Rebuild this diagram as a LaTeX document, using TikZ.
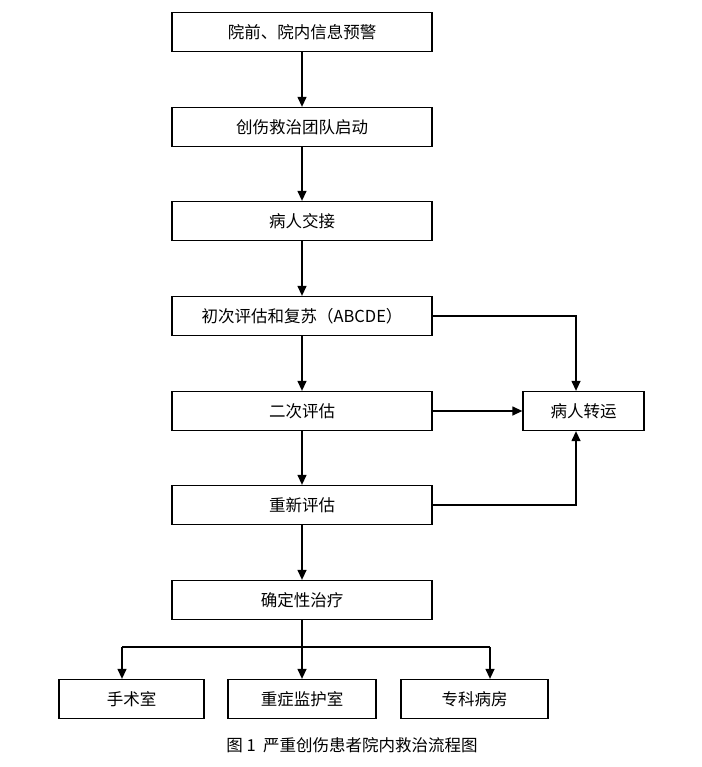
\documentclass[tikz,border=0pt]{standalone}
\usepackage{fontspec}
\setmainfont{Noto Sans CJK SC}
\usetikzlibrary{arrows.meta}
\begin{document}
\begin{tikzpicture}[x=1pt,y=-1pt,
  box/.style={draw,line width=1.3pt,minimum height=39pt,inner sep=0pt,font=\fontsize{16.5}{19}\selectfont},
  mainbox/.style={box,minimum width=260pt},
  arr/.style={line width=1.3pt,-{Triangle[length=10pt,width=9pt]}},
  ln/.style={line width=1.3pt}]
\useasboundingbox (0,0) rectangle (701,767);
\node[mainbox] (n1) at (302,32) {院前、院内信息预警};
\node[mainbox] (n2) at (302,127) {创伤救治团队启动};
\node[mainbox] (n3) at (302,221) {病人交接};
\node[mainbox] (n4) at (302,316) {初次评估和复苏（ABCDE）};
\node[mainbox] (n5) at (302,411) {二次评估};
\node[mainbox] (n6) at (302,505) {重新评估};
\node[mainbox] (n7) at (302,600) {确定性治疗};
\node[box,minimum width=121pt] (tr) at (583.5,411) {病人转运};
\node[box,minimum width=145pt] (b1) at (131.5,699) {手术室};
\node[box,minimum width=148pt] (b2) at (302,699) {重症监护室};
\node[box,minimum width=147pt] (b3) at (474.5,699) {专科病房};
\node[font=\fontsize{16.5}{19}\selectfont] (cap) at (352,745) {图 1\ \ 严重创伤患者院内救治流程图};
\draw[arr] (n1) -- (n2);
\draw[arr] (n2) -- (n3);
\draw[arr] (n3) -- (n4);
\draw[arr] (n4) -- (n5);
\draw[arr] (n5) -- (n6);
\draw[arr] (n6) -- (n7);
\draw[arr] (n5) -- (tr);
\coordinate (c1) at (576,316);
\coordinate (c2) at (576,505);
\draw[arr] (n4.east) -- (c1) -- (c1 |- tr.north);
\draw[arr] (n6.east) -- (c2) -- (c2 |- tr.south);
\coordinate (h) at (302,647);
\coordinate (hl) at (122,647);
\coordinate (hr) at (490,647);
\draw[ln] (n7.south) -- (h);
\draw[ln] (hl) -- (hr);
\draw[arr] (hl) -- (hl |- b1.north);
\draw[arr] (h) -- (b2.north);
\draw[arr] (hr) -- (hr |- b3.north);
\end{tikzpicture}
\end{document}
